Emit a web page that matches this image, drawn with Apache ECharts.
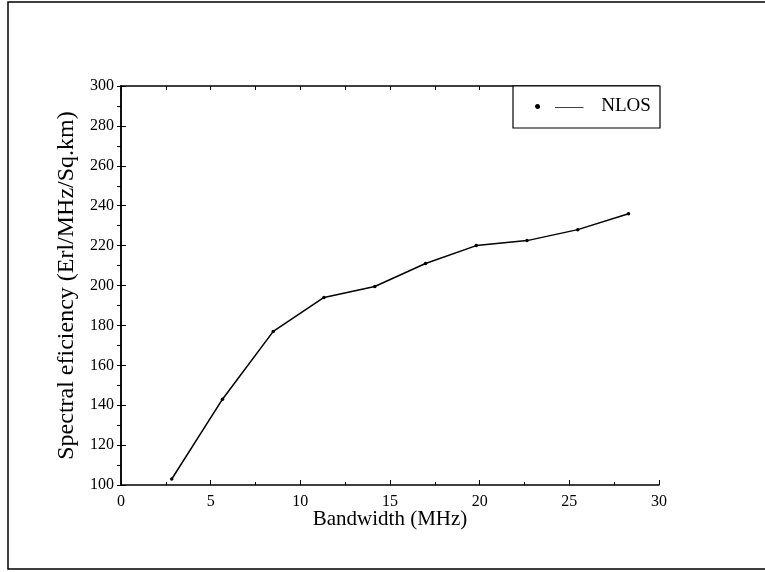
<!DOCTYPE html>
<html>
<head>
<meta charset="utf-8">
<script src="https://cdn.jsdelivr.net/npm/echarts@6/dist/echarts.min.js"></script>
<style>
html,body{margin:0;padding:0;background:#fff;}
#chart{width:765px;height:572px;}
</style>
</head>
<body>
<div id="chart"></div>
<script>
// Data
const bandwidth = [2.83, 5.66, 8.49, 11.32, 14.15, 16.98, 19.81, 22.64, 25.47, 28.3];
const efficiency = [103, 143, 177, 194, 199.5, 211, 220, 222.5, 228, 236];
const seriesName = 'NLOS';
const xTitle = 'Bandwidth (MHz)';
const yTitle = 'Spectral eficiency (Erl/MHz/Sq.km)';

const FONT = '"Liberation Serif", "DejaVu Serif", serif';
const chart = echarts.init(document.getElementById('chart'), null, {renderer: 'canvas'});

const points = bandwidth.map((x, i) => [x, efficiency[i]]);

const axisLine = {show: true, lineStyle: {color: '#000', width: 1.5}};

chart.setOption({
  animation: false,
  backgroundColor: '#fff',
  grid: {left: 121, right: 106, top: 86, bottom: 87, containLabel: false},
  graphic: [
    {type: 'rect', shape: {x: 8, y: 2, width: 770, height: 567}, style: {fill: 'none', stroke: '#000', lineWidth: 1.5}, silent: true},
    {type: 'rect', shape: {x: 513, y: 86, width: 147, height: 42}, style: {fill: '#fff', stroke: '#000', lineWidth: 1.2}, silent: true, z: 50}
  ],
  legend: {
    show: true,
    left: 535,
    top: 97,
    z: 60,
    padding: 0,
    itemWidth: 54,
    itemHeight: 5,
    icon: 'path://M0,2.5A2.5,2.5 0 1,0 5,0A2.5,2.5 0 1,0 0,2.5Z M22,2L54,2L54,3L22,3Z',
    itemStyle: {color: '#000'},
    textStyle: {fontFamily: FONT, fontSize: 19, color: '#000', padding: [0, 0, 0, 10]},
    data: [seriesName]
  },
  xAxis: [
    {
      type: 'value', position: 'bottom', min: 0, max: 30, interval: 5,
      name: xTitle, nameLocation: 'middle', nameGap: 24, nameMoveOverlap: false,
      nameTextStyle: {fontFamily: FONT, fontSize: 21, color: '#000', verticalAlign: 'top'},
      axisLine: axisLine,
      axisTick: {show: true, inside: true, length: 5, lineStyle: {color: '#000'}},
      minorTick: {show: true, splitNumber: 2, length: 3, lineStyle: {color: '#000'}},
      axisLabel: {fontFamily: FONT, fontSize: 16, color: '#000', margin: 9},
      splitLine: {show: false}
    },
    {
      type: 'value', position: 'top', min: 0, max: 30, interval: 2.5,
      axisLine: axisLine,
      axisTick: {show: true, inside: true, length: 4, lineStyle: {color: '#000'}},
      axisLabel: {show: false},
      splitLine: {show: false}
    }
  ],
  yAxis: [
    {
      type: 'value', position: 'left', min: 100, max: 300, interval: 20,
      name: yTitle, nameLocation: 'middle', nameGap: 24, nameRotate: 90,
      nameTextStyle: {fontFamily: FONT, fontSize: 24, color: '#000'},
      axisLine: axisLine,
      axisTick: {show: true, inside: true, length: 5, lineStyle: {color: '#000'}},
      axisLabel: {fontFamily: FONT, fontSize: 16, color: '#000', margin: 7},
      splitLine: {show: false}
    },
    {
      type: 'value', position: 'right', min: 100, max: 300, interval: 10,
      axisLine: axisLine,
      axisTick: {show: true, inside: true, length: 4, lineStyle: {color: '#000'}},
      axisLabel: {show: false},
      splitLine: {show: false}
    }
  ],
  series: [
    {
      name: seriesName,
      type: 'line',
      xAxisIndex: 0,
      yAxisIndex: 0,
      data: points,
      symbol: 'circle',
      symbolSize: 3.5,
      showSymbol: true,
      lineStyle: {color: '#000', width: 1.5},
      itemStyle: {color: '#000'},
      z: 10
    }
  ]
});
</script>
</body>
</html>
